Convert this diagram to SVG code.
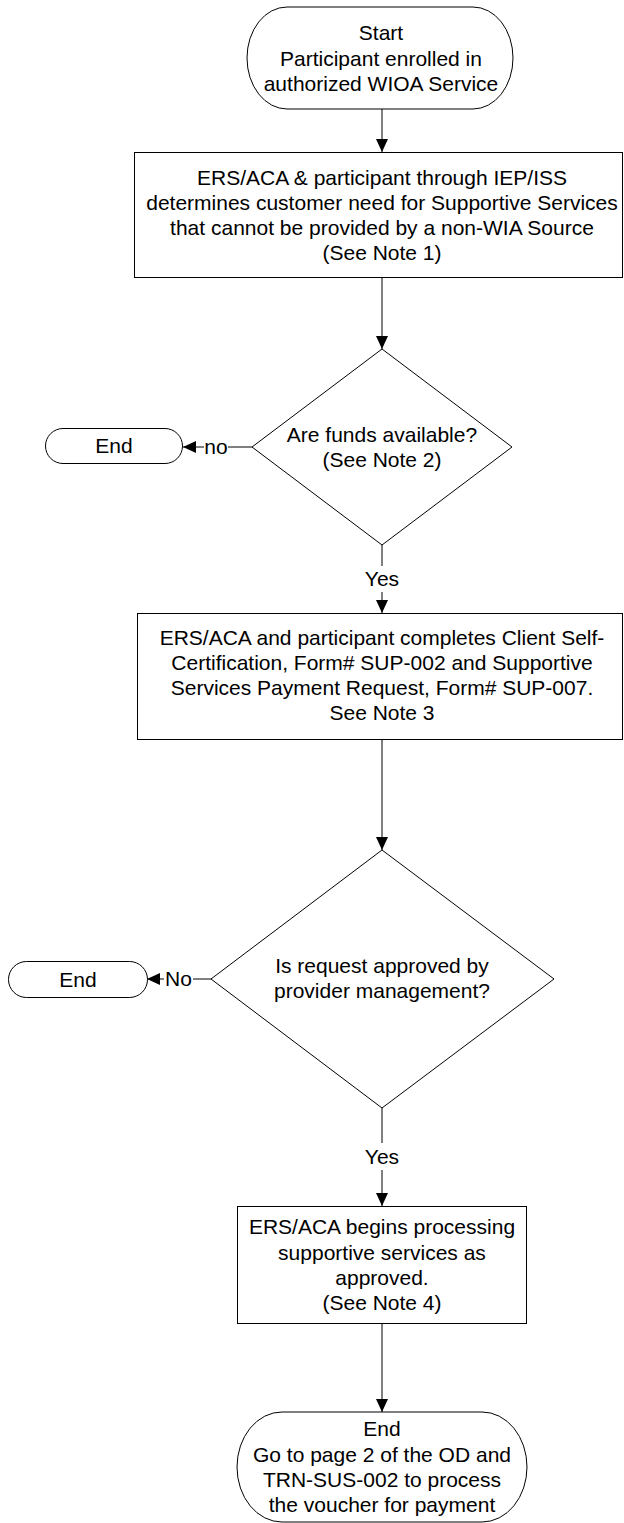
<svg xmlns="http://www.w3.org/2000/svg" width="624" height="1523" viewBox="0 0 624 1523">
<defs>
<style>
.shape{fill:#fff;stroke:#000;stroke-width:1}
.conn{fill:none;stroke:#000;stroke-width:1}
text{font-family:"Liberation Sans",Arial,sans-serif;font-size:21px;fill:#000;text-anchor:middle}
.lblbg{fill:#fff;stroke:none}
</style>
<marker id="arr" markerUnits="userSpaceOnUse" markerWidth="13" markerHeight="12" refX="13" refY="6" orient="auto">
<path d="M0,0 L13,6 L0,12 Z" fill="#000"/>
</marker>
</defs>
<rect width="624" height="1523" fill="#fff"/>

<g id="connectors">
<line class="conn" x1="382" y1="109" x2="382" y2="152" marker-end="url(#arr)"/>
<line class="conn" x1="382" y1="278" x2="382" y2="349" marker-end="url(#arr)"/>
<line class="conn" x1="252" y1="447" x2="183" y2="447" marker-end="url(#arr)"/>
<rect class="lblbg" x="204" y="436" width="24" height="22"/>
<text x="216" y="454">no</text>
<line class="conn" x1="382" y1="545" x2="382" y2="613" marker-end="url(#arr)"/>
<rect class="lblbg" x="362" y="566" width="40" height="26"/>
<text x="382" y="586">Yes</text>
<line class="conn" x1="382" y1="740" x2="382" y2="850" marker-end="url(#arr)"/>
<line class="conn" x1="211" y1="979" x2="147" y2="979" marker-end="url(#arr)"/>
<rect class="lblbg" x="164" y="968" width="29" height="22"/>
<text x="178.5" y="986">No</text>
<line class="conn" x1="382" y1="1108" x2="382" y2="1206" marker-end="url(#arr)"/>
<rect class="lblbg" x="362" y="1143" width="40" height="27"/>
<text x="382" y="1164">Yes</text>
<line class="conn" x1="382" y1="1323" x2="382" y2="1412" marker-end="url(#arr)"/>
</g>

<g id="start">
<path class="shape" d="M287,7 H473 A40,51 0 0 1 473,109 H287 A40,51 0 0 1 287,7 Z"/>
<text x="381" y="40">Start</text>
<text x="381" y="65.5">Participant enrolled in</text>
<text x="381" y="91">authorized WIOA Service</text>
</g>

<g id="box1">
<rect class="shape" x="134.5" y="152.5" width="488" height="125"/>
<text x="382" y="185">ERS/ACA &amp; participant through IEP/ISS</text>
<text x="382" y="210">determines customer need for Supportive Services</text>
<text x="382" y="235">that cannot be provided by a non-WIA Source</text>
<text x="382" y="260">(See Note 1)</text>
</g>

<g id="decision1">
<polygon class="shape" points="382,349 512,447 382,545 252,447"/>
<text x="382" y="442">Are funds available?</text>
<text x="382" y="467">(See Note 2)</text>
</g>

<g id="end1">
<rect class="shape" x="45.5" y="428.5" width="137" height="35" rx="17.5" ry="17.5"/>
<text x="114" y="453">End</text>
</g>

<g id="box2">
<rect class="shape" x="137.5" y="613.5" width="485" height="126"/>
<text x="382" y="645">ERS/ACA and participant completes Client Self-</text>
<text x="382" y="670">Certification, Form# SUP-002 and Supportive</text>
<text x="382" y="695">Services Payment Request, Form# SUP-007.</text>
<text x="382" y="720">See Note 3</text>
</g>

<g id="decision2">
<polygon class="shape" points="382,850 554,979 382,1108 211,979"/>
<text x="382" y="973">Is request approved by</text>
<text x="382" y="998">provider management?</text>
</g>

<g id="end2">
<rect class="shape" x="8.5" y="961.5" width="139" height="36" rx="18" ry="18"/>
<text x="78" y="987">End</text>
</g>

<g id="box3">
<rect class="shape" x="237.5" y="1206.5" width="289" height="117"/>
<text x="382" y="1234">ERS/ACA begins processing</text>
<text x="382" y="1260">supportive services as</text>
<text x="382" y="1285">approved.</text>
<text x="382" y="1310">(See Note 4)</text>
</g>

<g id="end3">
<path class="shape" d="M282,1412 H482 A45,55 0 0 1 482,1522 H282 A45,55 0 0 1 282,1412 Z"/>
<text x="382" y="1436">End</text>
<text x="382" y="1462">Go to page 2 of the OD and</text>
<text x="382" y="1487">TRN-SUS-002 to process</text>
<text x="382" y="1512">the voucher for payment</text>
</g>
</svg>
